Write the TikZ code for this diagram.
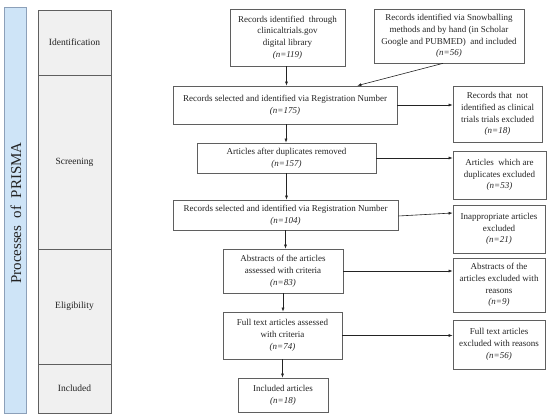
\documentclass[tikz,border=0pt]{standalone}
\usepackage{fontspec}
\setmainfont{Liberation Serif}
\usetikzlibrary{arrows.meta,calc}
\definecolor{barblue}{RGB}{206,228,247}
\definecolor{barline}{RGB}{140,160,185}
\definecolor{colgray}{RGB}{240,240,240}
\definecolor{colline}{RGB}{95,95,95}
\definecolor{ink}{RGB}{35,35,35}
\tikzset{
  flowbox/.style={draw=colline, line width=0.7pt, align=center, inner sep=0pt,
    text=ink, font=\fontsize{9}{11.8}\selectfont},
  stagebox/.style={draw=colline, line width=0.7pt, fill=colgray, inner sep=0pt,
    minimum width=73pt, text=ink, font=\fontsize{9.5}{11}\selectfont},
  flowarrow/.style={draw=ink, line width=0.6pt, -{Latex[length=4pt,width=3pt]}}
}
\begin{document}
\begin{tikzpicture}[x=1pt,y=-1pt]
\useasboundingbox (0,0) rectangle (550,419);
% left bar
\node[draw=barline, fill=barblue, line width=0.6pt, minimum width=22pt, minimum height=406pt, inner sep=0pt] (bar) at (15,210) {};
\node[rotate=90, text=ink, font=\fontsize{15}{17}\selectfont] (bartext) at (16,213) {Processes\ \ of\ \ PRISMA};
% stage column
\node[stagebox, minimum height=65pt] (sid) at (74.5,42.5) {Identification};
\node[stagebox, minimum height=174pt] (ssc) at (74.5,162) {Screening};
\node[stagebox, minimum height=115pt] (sel) at (74.5,306.5) {Eligibility};
\node[stagebox, minimum height=49pt] (sin) at (74.5,388.5) {Included};
% flow boxes
\node[flowbox, minimum width=115pt, minimum height=57pt] (b1) at (287.5,37.5)
  {Records identified\ \ through\\clinicaltrials.gov\\digital library\\\textit{(n=119)}};
\node[flowbox, minimum width=150pt, minimum height=54pt] (b2) at (449,36)
  {Records identified via Snowballing\\methods and by hand (in Scholar\\Google and PUBMED)\ \ and included\\\textit{(n=56)}};
\node[flowbox, minimum width=224pt, minimum height=38pt] (b175) at (285,105)
  {Records selected and identified via Registration Number\\\textit{(n=175)}};
\node[flowbox, minimum width=89pt, minimum height=56pt] (r1) at (497.5,114)
  {Records that\ \ not\\identified as clinical\\trials trials excluded\\\textit{(n=18)}};
\node[flowbox, minimum width=179pt, minimum height=30pt] (b157) at (286.5,158)
  {Articles after duplicates removed\\\textit{(n=157)}};
\node[flowbox, minimum width=93pt, minimum height=48pt] (r2) at (499.5,175)
  {Articles\ \ which are\\duplicates excluded\\\textit{(n=53)}};
\node[flowbox, minimum width=225pt, minimum height=30pt] (b104) at (285.5,215)
  {Records selected and identified via Registration Number\\\textit{(n=104)}};
\node[flowbox, minimum width=92pt, minimum height=48pt] (r3) at (499,229)
  {Inappropriate articles\\excluded\\\textit{(n=21)}};
\node[flowbox, minimum width=120pt, minimum height=44pt] (b83) at (283,271)
  {Abstracts of the articles\\assessed with criteria\\\textit{(n=83)}};
\node[flowbox, minimum width=92pt, minimum height=54pt] (r4) at (499,285)
  {Abstracts of the\\articles excluded with\\reasons\\\textit{(n=9)}};
\node[flowbox, minimum width=119pt, minimum height=47pt] (b74) at (282.5,335.5)
  {Full text articles assessed\\with criteria\\\textit{(n=74)}};
\node[flowbox, minimum width=92pt, minimum height=49pt] (r5) at (499,344.5)
  {Full text articles\\excluded with reasons\\\textit{(n=56)}};
\node[flowbox, minimum width=90pt, minimum height=34pt] (b18) at (283,395)
  {Included articles\\\textit{(n=18)}};
% vertical arrows
\draw[flowarrow] ($(b1.south)+(-1,0)$) -- ($(b1.south |- b175.north)+(-1,0)$);
\draw[flowarrow] ($(b2.south)+(-6,0)$) -- ($(b175.north east)+(-40,0)$);
\draw[flowarrow] ($(b175.south)+(1,0)$) -- ($(b175.south |- b157.north)+(1,0)$);
\draw[flowarrow] (b157.south) -- (b157.south |- b104.north);
\draw[flowarrow] (b104.south) -- (b104.south |- b83.north);
\draw[flowarrow] (b83.south) -- (b83.south |- b74.north);
\draw[flowarrow] (b74.south) -- (b74.south |- b18.north);
% side arrows
\draw[flowarrow] (b175.east) -- (b175.east -| r1.west);
\draw[flowarrow] (b157.east) -- (b157.east -| r2.west);
\draw[flowarrow] ($(b104.east)+(0,1)$) -- ($(b104.east -| r3.west)+(0,-2)$);
\draw[flowarrow] (b83.east) -- (b83.east -| r4.west);
\draw[flowarrow] (b74.east) -- (b74.east -| r5.west);
\end{tikzpicture}
\end{document}
